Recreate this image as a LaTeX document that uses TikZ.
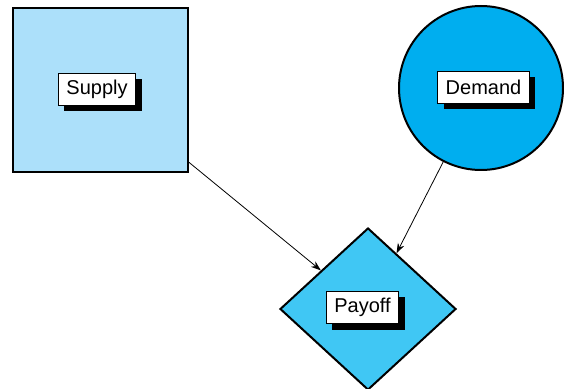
\documentclass[tikz,border=0pt]{standalone}
\usepackage{fontspec}
\setmainfont{Liberation Sans}
\usepackage{xcolor}
\usetikzlibrary{
  arrows.meta,
  positioning,
  shapes.geometric,
  shadows,
}

\definecolor{supplyblue}{RGB}{172,224,250}
\definecolor{demandblue}{RGB}{0,174,239}
\definecolor{payoffblue}{RGB}{64,199,244}

\begin{document}
\begin{tikzpicture}[
  x=1pt, y=1pt,
  font=\fontsize{20}{22}\selectfont,
  block/.style={draw=black, line width=2pt, inner sep=0pt},
  tag/.style={draw=black, line width=0.8pt, fill=white, inner xsep=8pt,
    minimum height=32pt,
    drop shadow={shadow xshift=6pt, shadow yshift=-6pt, fill=black, opacity=1}},
  arrow/.style={-{Stealth[length=10pt, width=7pt]}, line width=0.8pt},
]
\useasboundingbox (0,0) rectangle (564,388);
\clip (0,0) rectangle (564,388);

%% the three shapes
\node[block, rectangle, fill=supplyblue, minimum width=175pt, minimum height=164pt]
  (supply) at (100.5,298) {};
\node[block, circle, fill=demandblue, minimum size=164pt]
  (demand) at (481,300) {};
\node[block, diamond, fill=payoffblue, minimum width=176pt, minimum height=162pt]
  (payoff) at (368,79) {};

%% boxed labels
\node[tag] (supplytag) at (97,299) {Supply};
\node[tag] (demandtag) at (483.5,300.5) {Demand};
\node[tag] (payofftag) at (362.5,80.5) {Payoff};

\draw[arrow] (supply) -- (payoff);
\draw[arrow] (demand) -- (payoff);

\end{tikzpicture}
\end{document}
